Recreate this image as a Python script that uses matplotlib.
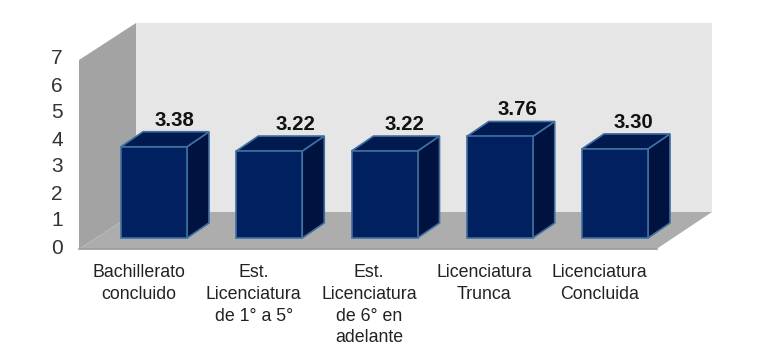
import matplotlib
matplotlib.use("Agg")
import matplotlib.pyplot as plt
from matplotlib.patches import Polygon

categories = ["Bachillerato\nconcluido", "Est.\nLicenciatura\nde 1° a 5°",
              "Est.\nLicenciatura\nde 6° en\nadelante", "Licenciatura\nTrunca",
              "Licenciatura\nConcluida"]
values = [3.38, 3.22, 3.22, 3.76, 3.30]
value_labels = ["3.38", "3.22", "3.22", "3.76", "3.30"]
y_ticks = [0, 1, 2, 3, 4, 5, 6, 7]

plt.rcParams["font.family"] = ["Liberation Sans", "DejaVu Sans"]

W, H = 778, 360
X_UNIT = 115.25   # px per category
Y_UNIT = 27.0     # px per value unit
X0 = 154          # px of first bar centre
Y0 = 249          # px of value 0 on the front wall edge

fig = plt.figure(figsize=(W / 100, H / 100), dpi=100)
ax = fig.add_axes([0, 0, 1, 1])
ax.set_xlim(-X0 / X_UNIT, (W - X0) / X_UNIT)
ax.set_ylim((Y0 - H) / Y_UNIT, Y0 / Y_UNIT)
ax.axis("off")

# chart box depth, in data units
wall_dx = 57 / X_UNIT
wall_dy = 37 / Y_UNIT
left = -75 / X_UNIT
right = 502.5 / X_UNIT
back_right = 558 / X_UNIT
top = y_ticks[-1]

back = [(left + wall_dx, wall_dy), (back_right, wall_dy),
        (back_right, top + wall_dy), (left + wall_dx, top + wall_dy)]
side = [(left, 0), (left + wall_dx, wall_dy), (left + wall_dx, top + wall_dy), (left, top)]
floor = [(left, 0), (right, 0), (back_right, wall_dy), (left + wall_dx, wall_dy)]
ax.add_patch(Polygon(back, fc="#e6e6e6", ec="none", zorder=1))
ax.add_patch(Polygon(side, fc="#a3a3a3", ec="none", zorder=1))
ax.add_patch(Polygon(floor, fc="#adadad", ec="none", zorder=1))
ax.plot([left, right], [0, 0], color="#9a9a9a", lw=1.2, zorder=2)

# bars
bar_w = 66 / X_UNIT
lift = 11 / Y_UNIT
dx = 22 / X_UNIT
dy = 15 / Y_UNIT
edge = "#3f6f9f"
label_dx = [21, 27, 21, 19, 19]

for i, v in enumerate(values):
    x0 = i - bar_w / 2
    x1 = i + bar_w / 2
    y1 = lift + v
    ax.bar(i, v, width=bar_w, bottom=lift, color="#012060", edgecolor=edge, linewidth=1.2, zorder=4)
    ax.add_patch(Polygon([(x1, lift), (x1 + dx, lift + dy), (x1 + dx, y1 + dy), (x1, y1)],
                         fc="#001340", ec=edge, lw=1.2, zorder=3))
    ax.add_patch(Polygon([(x0, y1), (x1, y1), (x1 + dx, y1 + dy), (x0 + dx, y1 + dy)],
                         fc="#001a50", ec=edge, lw=1.2, zorder=3))
    ax.text(i + label_dx[i] / X_UNIT - 1 / X_UNIT, y1 + 26.5 / Y_UNIT, value_labels[i], ha="center", va="center",
            fontsize=14.7, fontweight="bold", color="#111111", zorder=5)
    ax.text(i - 15.5 / X_UNIT, -15 / Y_UNIT, categories[i], ha="center", va="top",
            fontsize=12.8, color="#222222", linespacing=1.37, zorder=5)

for t in y_ticks:
    ax.text(left - 22 / X_UNIT, t + 1 / Y_UNIT, str(t), ha="center", va="center", fontsize=15, color="#333333")

fig.savefig("out.png", dpi=100)
